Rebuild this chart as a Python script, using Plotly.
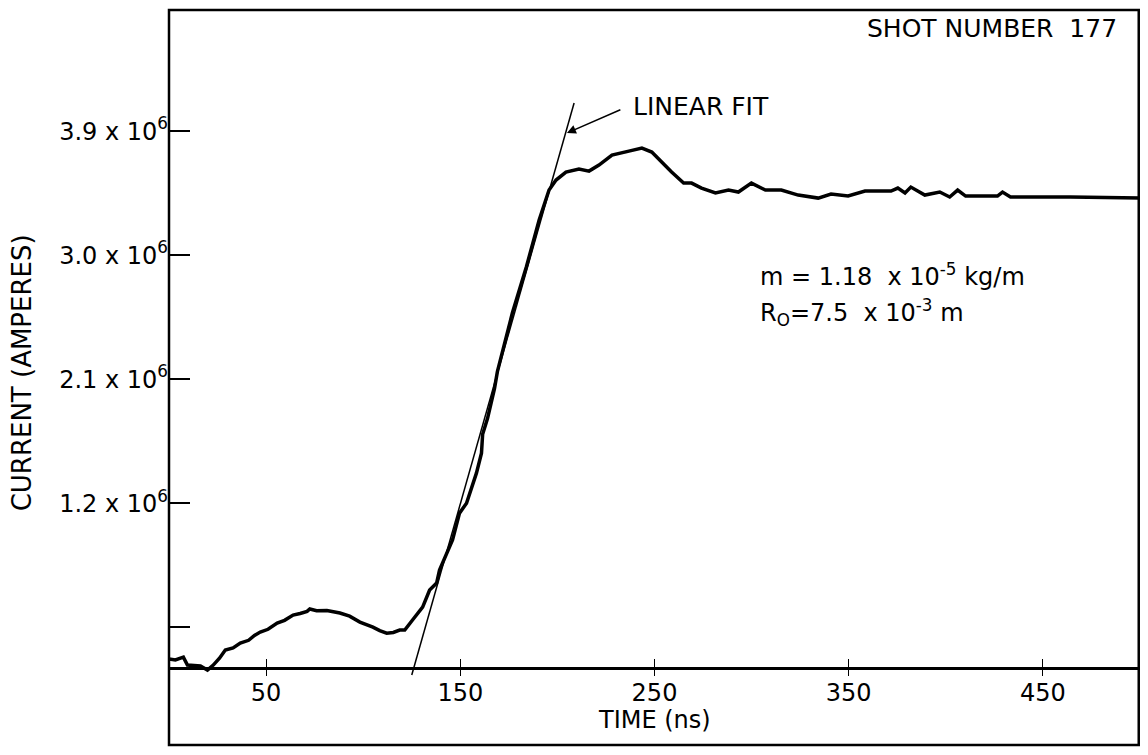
import plotly.graph_objects as go

# ---- data ----
time_ns = [0, 3.3, 7.4, 9.5, 16.2, 19.8, 22.8, 26.0, 29.0, 33.0, 36.7, 41.0, 44.0, 47.0, 51.0,
           55.7, 59.5, 63.9, 67.5, 71.1, 72.5, 76.0, 81.3, 84.5, 88.0,
           93.0, 98.3, 105.0, 108.5, 112.1, 115.5, 118.8, 121.4, 125.4, 130.6, 134.2, 137.8, 139.3,
           146.0, 149.6, 153.2, 158.3, 160.9, 161.5, 164.0, 167.6, 169.1, 176.8, 184.0, 190.6,
           195.7, 199.3, 204.4, 211.1, 216.3, 221.4, 228.1, 236.8, 243.5, 248.6, 253.7, 258.8,
           265.0, 269.1, 274.2, 281.4, 288.1, 293.2, 299.9, 307.1, 315.3, 324.0, 334.3, 340.9,
           349.7, 358.4, 371.8, 375.3, 379.0, 382.0, 389.2, 396.9, 402.0, 406.1, 410.2, 426.6,
           429.2, 433.3, 464.1, 500.0]
current_MA = [0.069, 0.062, 0.083, 0.025, 0.018, -0.011, 0.025, 0.075, 0.134, 0.150, 0.185, 0.205,
              0.240, 0.265, 0.285, 0.330, 0.350, 0.388, 0.400, 0.415, 0.432, 0.420, 0.422, 0.415,
              0.403, 0.380, 0.337, 0.301, 0.275, 0.257, 0.262, 0.279, 0.279, 0.352, 0.446, 0.570,
              0.620, 0.715, 0.933, 1.128, 1.200, 1.418, 1.563, 1.700, 1.814, 2.032, 2.155, 2.580,
              2.914, 3.255, 3.473, 3.545, 3.603, 3.625, 3.610, 3.654, 3.726, 3.755, 3.777, 3.748,
              3.675, 3.603, 3.523, 3.523, 3.487, 3.451, 3.472, 3.458, 3.523, 3.472, 3.472, 3.436,
              3.414, 3.443, 3.429, 3.465, 3.465, 3.487, 3.451, 3.494, 3.436, 3.458, 3.422, 3.472,
              3.429, 3.429, 3.458, 3.422, 3.422, 3.415]
current_A = [v * 1e6 for v in current_MA]

fit_time = [125.0, 208.6]
fit_current = [-0.047e6, 4.104e6]

x_tickvals = [50, 150, 250, 350, 450]
x_ticktext = ["50", "150", "250", "350", "450"]
y_tickvals = [0.3e6, 1.2e6, 2.1e6, 3.0e6, 3.9e6]
y_ticktext = [" ", "1.2 x 10<sup>6</sup>", "2.1 x 10<sup>6</sup>",
              "3.0 x 10<sup>6</sup>", "3.9 x 10<sup>6</sup>"]

FONT = "DejaVu Sans"

fig = go.Figure()
fig.add_trace(go.Scatter(x=time_ns, y=current_A, mode="lines",
                         line=dict(color="black", width=3.5), showlegend=False))
fig.add_trace(go.Scatter(x=fit_time, y=fit_current, mode="lines",
                         line=dict(color="black", width=1.5), showlegend=False))

# page body has an 8px margin: plot area spans x 169..1140, y 10..676 in the window
fig.update_layout(
    width=1132, height=739,
    margin=dict(l=161, r=0, t=2, b=71),
    plot_bgcolor="white", paper_bgcolor="white",
    font=dict(family=FONT, size=24, color="black"),
    xaxis=dict(range=[0, 500], tickvals=x_tickvals, ticktext=x_ticktext,
               ticks="inside", ticklen=17, tickwidth=1, tickcolor="black",
               showgrid=False, zeroline=False, showline=False,
               tickfont=dict(size=24), ticklabelstandoff=0),
    yaxis=dict(range=[-0.054e6, 4.779e6], tickvals=y_tickvals, ticktext=y_ticktext,
               ticks="inside", ticklen=21, tickwidth=2, tickcolor="black",
               showgrid=False, zeroline=True, zerolinecolor="black", zerolinewidth=2.5,
               showline=False, tickfont=dict(size=24)),
)

# outer frame enclosing plot and x tick labels
fig.add_shape(type="rect", xref="paper", yref="paper", x0=0, x1=0.9987, y0=-0.1035, y1=1,
              line=dict(color="black", width=2.5))

# axis titles
fig.add_annotation(xref="paper", yref="paper", x=-0.151, y=0.455, text="CURRENT (AMPERES)",
                   showarrow=False, textangle=-90, font=dict(size=26),
                   xanchor="center", yanchor="middle")
fig.add_annotation(xref="paper", yref="paper", x=0.5004, y=-0.066, text="TIME (ns)",
                   showarrow=False, font=dict(size=24), xanchor="center", yanchor="middle")

# text annotations
fig.add_annotation(x=489.2, y=4.648e6, text="SHOT NUMBER  177", showarrow=False,
                   xanchor="right", yanchor="middle", font=dict(size=25))
fig.add_annotation(x=237.8, y=4.082e6, text="LINEAR FIT", showarrow=False,
                   xanchor="left", yanchor="middle", font=dict(size=25))
fig.add_annotation(x=204.9, y=3.886e6, ax=233.2, ay=4.06e6, axref="x", ayref="y",
                   text="", showarrow=True, arrowhead=2, arrowsize=1.2, arrowwidth=1.5,
                   arrowcolor="black")
fig.add_annotation(x=303.5, y=2.856e6, text="m = 1.18  x 10<sup>-5</sup> kg/m",
                   showarrow=False, xanchor="left", yanchor="middle", font=dict(size=24))
fig.add_annotation(x=303.5, y=2.587e6, text="R<sub>O</sub>=7.5  x 10<sup>-3</sup> m",
                   showarrow=False, xanchor="left", yanchor="middle", font=dict(size=24))

fig.write_html("out.html")
